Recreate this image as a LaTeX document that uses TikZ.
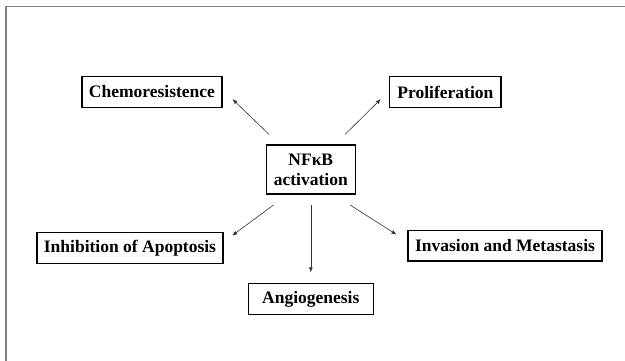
\documentclass[tikz,border=0pt]{standalone}
\usepackage{fontspec}
\setmainfont{Liberation Serif}
\usetikzlibrary{positioning, arrows.meta}

\begin{document}
\begin{tikzpicture}[node distance=2cm, on grid, >={Latex[length=5pt,width=4pt]}]
        \tikzset{box/.style={draw,line width=1.6pt,minimum height=30.7pt,inner sep=2pt,align=center,
                font=\bfseries\fontsize{17.5}{20}\selectfont}}
        % Define attributes for the connectors
        \tikzstyle{link}=[->,line width=0.6pt,draw=black!80]

        \useasboundingbox (0,0) rectangle (625pt,-361pt);
        \draw[gray,line width=1.2pt] (6pt,-361pt) -- (6pt,-6.5pt) -- (625pt,-6.5pt);

        \node[box,minimum width=89pt,minimum height=49pt] (nfkb) at (310.8pt,-169.7pt) {NFκB\\activation};
        \node[box,minimum width=140pt] (chemo) [above left=77.7pt and 158.8pt of nfkb] {Chemoresistence};
        \node[box,minimum width=111.6pt] (prolif) [above right=77.7pt and 134.6pt of nfkb] {Proliferation};
        \node[box,minimum width=186pt] (apop) [below left=78.3pt and 180.8pt of nfkb] {Inhibition of Apoptosis};
        \node[box,minimum width=194pt] (inva) [below right=76pt and 194.2pt of nfkb] {Invasion and Metastasis};
        \node[box,minimum width=125pt] (angio) [below=129.3pt of nfkb] {Angiogenesis};

        \draw[link] ([shift={(3.5pt,10pt)}]nfkb.north west) -- ([shift={(9.7pt,9pt)}]chemo.south east);
        \draw[link] ([shift={(-11pt,10pt)}]nfkb.north east) -- ([shift={(-8pt,9pt)}]prolif.south west);
        \draw[link] ([shift={(8pt,-10pt)}]nfkb.south west) -- ([shift={(8.4pt,-3.7pt)}]apop.north east);
        \draw[link] ([yshift=-10pt]nfkb.south) -- ([yshift=10.5pt]angio.north);
        \draw[link] ([shift={(-6pt,-10pt)}]nfkb.south east) -- ([shift={(-10.7pt,-5pt)}]inva.north west);
\end{tikzpicture}
\end{document}
